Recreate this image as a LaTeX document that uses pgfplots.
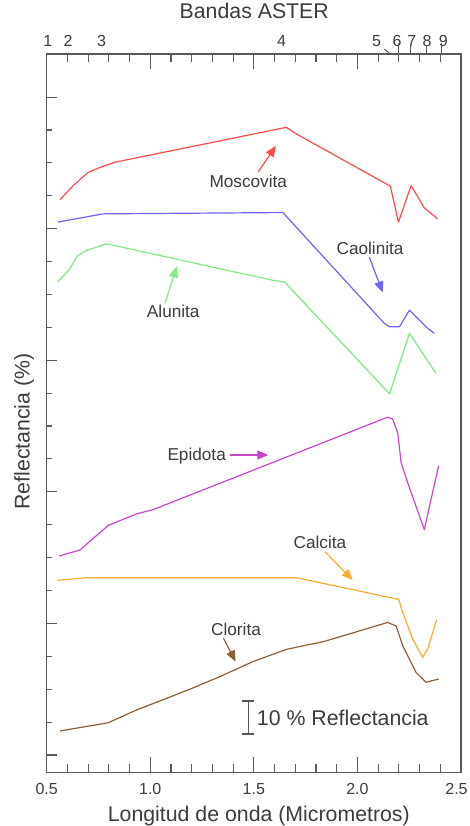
\documentclass[border=0pt]{standalone}
\usepackage{pgfplots}
\pgfplotsset{compat=1.18}
\usepackage{fontspec}
\setmainfont{Liberation Sans}
\usetikzlibrary{arrows.meta}

\definecolor{txt}{RGB}{60,60,60}
\definecolor{axisgray}{RGB}{90,90,90}
\definecolor{moscred}{RGB}{255,75,75}
\definecolor{caoblue}{RGB}{110,100,250}
\definecolor{alugreen}{RGB}{130,232,130}
\definecolor{epimag}{RGB}{200,70,200}
\definecolor{calorange}{RGB}{255,170,50}
\definecolor{clobrown}{RGB}{140,95,55}

\newcommand{\fs}[1]{\fontsize{#1}{#1}\selectfont}

\begin{document}
\begin{tikzpicture}
\useasboundingbox (0,0) rectangle (469pt,826pt);
\tikzset{lbl/.style={font=\fs{17.2}, text=txt, inner sep=0pt},
         arr/.style={line width=1.2pt, -{Triangle[length=11pt,width=9pt]}},
         band/.style={anchor=base, font=\fs{16}, text=txt, inner sep=0pt, yshift=7.3pt},
         wl/.style={anchor=base, font=\fs{16}, text=txt, inner sep=0pt, yshift=-21.8pt},
         tk/.style={draw=axisgray, line width=1.1pt}}
\begin{axis}[
  at={(46.7pt,53.5pt)}, anchor=south west,
  scale only axis, width=414.3pt, height=718.5pt,
  xmin=0.5, xmax=2.5, ymin=-0.32, ymax=218.1,
  clip=false,
  axis line style={draw=axisgray, line width=1.3pt},
  major tick length=10.5pt, minor tick length=5.7pt,
  xtick={0.5,1.0,1.5,2.0,2.5},
  xmajorticks=false, xminorticks=false,
  ytick={5,45,85,125,165,205}, minor y tick num=3,
  ytick pos=left, yticklabels={},
  tick align=inside,
  ytick style={draw=axisgray, line width=1.1pt},
  xlabel={Longitud de onda (Micrometros)},
  xlabel style={at={(axis description cs:0.512,-0.0685)}, anchor=base, font=\fs{21.3}, text=txt},
  ylabel={Reflectancia (\%)},
  ylabel style={at={(axis description cs:-0.0548,0.4746)}, rotate=0, anchor=center, font=\fs{21.3}, text=txt},
  title={Bandas ASTER},
  title style={at={(axis description cs:0.501,1.0404)}, anchor=base, font=\fs{21.3}, text=txt},
  every axis plot/.append style={line width=1.2pt, line join=round},
]
% Moscovita
\addplot[moscred] coordinates {(0.564,173.8) (0.628,178.1) (0.700,182.1) (0.757,183.6) (0.829,185.2) (1.657,195.8) (1.705,193.8) (2.159,177.9) (2.198,167.0) (2.259,178.1) (2.323,171.3) (2.387,168.0)};
% Caolinita
\addplot[caoblue] coordinates {(0.553,167.0) (0.773,169.5) (1.640,169.9) (2.130,136.2) (2.154,135.2) (2.203,135.2) (2.251,140.2) (2.291,137.7) (2.339,134.7) (2.371,133.2)};
% Alunita
\addplot[alugreen] coordinates {(0.553,148.8) (0.612,152.8) (0.645,156.6) (0.685,158.2) (0.789,160.4) (1.592,149.3) (1.648,148.8) (2.155,114.8) (2.251,133.2) (2.379,121.0)};
% Epidota
\addplot[epimag] coordinates {(0.561,65.5) (0.660,67.3) (0.700,69.5) (0.797,74.8) (0.934,78.3) (1.014,79.6) (2.146,107.7) (2.170,107.1) (2.195,102.8) (2.211,93.8) (2.243,87.7) (2.323,73.5) (2.355,82.6) (2.392,92.9)};
% Calcita
\addplot[calorange] coordinates {(0.551,58.1) (0.700,58.9) (1.705,58.9) (2.199,52.3) (2.219,48.3) (2.267,40.2) (2.315,34.7) (2.339,37.2) (2.382,46.1)};
% Clorita
\addplot[clobrown] coordinates {(0.564,12.3) (0.797,14.8) (0.934,18.7) (1.078,22.2) (1.191,25.0) (1.335,28.8) (1.496,33.4) (1.657,37.1) (1.753,38.4) (1.833,39.4) (2.146,45.3) (2.187,44.2) (2.219,38.2) (2.283,30.1) (2.331,27.1) (2.392,28.1)};

% wavelength ticks on the bottom and top edges (every 0.1, long every 0.5)
\pgfplotsinvokeforeach{0.6,0.7,0.8,0.9,1.1,1.2,1.3,1.4,1.6,1.7,1.8,1.9,2.1,2.2,2.3,2.4}{
  \draw[tk] (axis cs:#1,-0.32) -- ([yshift=8pt]axis cs:#1,-0.32);
  \draw[tk] (axis cs:#1,218.1) -- ([yshift=-8pt]axis cs:#1,218.1);
}
\pgfplotsinvokeforeach{1.0,1.5,2.0}{
  \draw[tk] (axis cs:#1,-0.32) -- ([yshift=15pt]axis cs:#1,-0.32);
  \draw[tk] (axis cs:#1,218.1) -- ([yshift=-15pt]axis cs:#1,218.1);
}
% wavelength labels
\node[wl] at (axis cs:0.5,-0.32) {0.5};
\node[wl] at (axis cs:1.0,-0.32) {1.0};
\node[wl] at (axis cs:1.5,-0.32) {1.5};
\node[wl] at (axis cs:2.0,-0.32) {2.0};
\node[wl, xshift=-4.5pt] at (axis cs:2.5,-0.32) {2.5};

% mineral names with arrows
\node[lbl] at (axis cs:1.473,179.3) {Moscovita};
\draw[arr, moscred] (axis cs:1.520,182.2) -- (axis cs:1.607,190.2);
\node[lbl] at (axis cs:2.061,159.1) {Caolinita};
\draw[arr, caoblue] (axis cs:2.057,156.4) -- (axis cs:2.122,145.6);
\node[lbl] at (axis cs:1.111,139.8) {Alunita};
\draw[arr, alugreen] (axis cs:1.071,142.3) -- (axis cs:1.128,153.5);
\node[lbl] at (axis cs:1.224,95.9) {Epidota};
\draw[arr, epimag] (axis cs:1.385,96.2) -- (axis cs:1.570,96.2);
\node[lbl] at (axis cs:1.819,69.7) {Calcita};
\draw[arr, calorange] (axis cs:1.843,66.8) -- (axis cs:1.977,58.2);
\node[lbl] at (axis cs:1.414,43.2) {Clorita};
\draw[arr, clobrown] (axis cs:1.353,40.5) -- (axis cs:1.412,33.4);

% 10 % scale bar
\draw[axisgray, line width=1.4pt] (axis cs:1.473,11.4) -- (axis cs:1.473,21.4);
\draw[axisgray, line width=1.4pt] ([xshift=-6pt]axis cs:1.473,11.4) -- ([xshift=6pt]axis cs:1.473,11.4);
\draw[axisgray, line width=1.4pt] ([xshift=-6pt]axis cs:1.473,21.4) -- ([xshift=6pt]axis cs:1.473,21.4);
\node[anchor=west, font=\fs{21.3}, text=txt, inner sep=0pt] at (axis cs:1.514,16.2) {10 \% Reflectancia};

% ASTER band numbers on the top edge
\node[band] at (axis cs:0.505,218.1) {1};
\node[band] at (axis cs:0.603,218.1) {2};
\node[band] at (axis cs:0.765,218.1) {3};
\node[band] at (axis cs:1.634,218.1) {4};
\node[band] at (axis cs:2.093,218.1) {5};
\node[band] at (axis cs:2.191,218.1) {6};
\node[band] at (axis cs:2.263,218.1) {7};
\node[band] at (axis cs:2.336,218.1) {8};
\node[band] at (axis cs:2.415,218.1) {9};
\draw[tk] (axis cs:2.200,218.1) -- ([yshift=11pt]axis cs:2.200,218.1);
\draw[tk] (axis cs:2.255,218.1) -- ([yshift=9pt]axis cs:2.255,218.1);
\draw[tk] (axis cs:2.333,218.1) -- ([yshift=9pt]axis cs:2.333,218.1);
\draw[tk] (axis cs:2.404,218.1) -- ([yshift=11pt]axis cs:2.404,218.1);
\draw[axisgray, line width=1.0pt] ([xshift=-5.5pt,yshift=5pt]axis cs:2.157,218.1) -- (axis cs:2.157,218.1);
\end{axis}
\end{tikzpicture}
\end{document}
